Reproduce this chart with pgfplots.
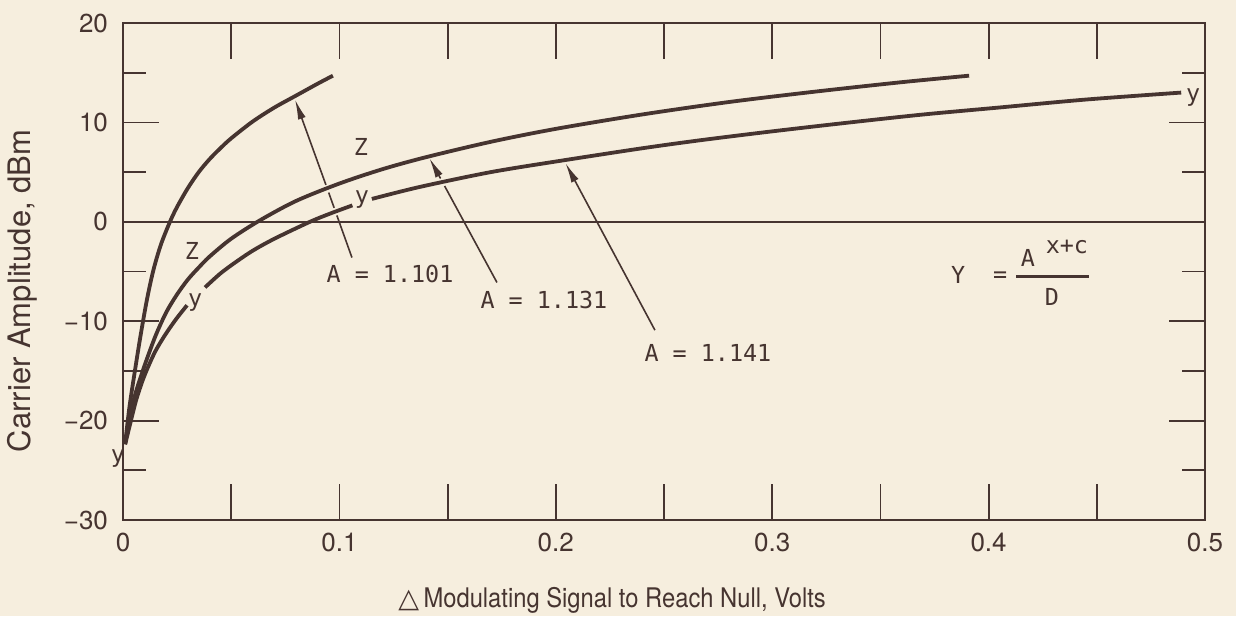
\documentclass[border=0pt]{standalone}
\usepackage{pgfplots}
\pgfplotsset{compat=1.18}
\usepackage{fontspec}
\setmainfont{TeX Gyre Heros}
\newfontfamily\cond[FakeStretch=0.88]{TeX Gyre Heros}
\newfontfamily\typed{DejaVu Sans Mono}
\newfontfamily\symb{DejaVu Sans}
\usetikzlibrary{arrows.meta}
\definecolor{paper}{RGB}{246,238,222}
\definecolor{ink}{RGB}{70,52,48}
\tikzset{leader/.style={ink, line width=0.8pt},
         head/.style={-{Latex[length=10pt, width=4pt]}}}

\begin{document}
\begin{tikzpicture}
\path[use as bounding box, fill=paper] (0,0) rectangle (618pt,308pt);
\begin{axis}[
  at={(61.5pt,48pt)}, anchor=south west,
  width=541pt, height=248.5pt, scale only axis,
  xmin=0, xmax=0.5, ymin=-30, ymax=20,
  clip=false,
  axis line style={ink, line width=1.3pt},
  tick align=inside,
  xtick={0,0.05,0.1,0.15,0.2,0.25,0.3,0.35,0.4,0.45,0.5},
  xticklabels={0,,0.1,,0.2,,0.3,,0.4,,0.5},
  ytick={-30,-20,-10,0,10,20},
  yticklabels={−30,−20,−10,0,10,20},
  minor ytick={-25,-15,-5,5,15},
  major tick length=18pt, minor tick length=11.5pt,
  tick style={ink, line width=0.9pt},
  minor tick style={ink, line width=0.9pt},
  ticklabel style={font=\fontsize{13}{15}\selectfont, text=ink},
  yticklabel style={xshift=-4pt},
  xticklabel style={yshift=-3pt},
  extra y ticks={0}, extra y tick labels={},
  extra y tick style={grid=major},
  major grid style={ink, line width=0.8pt},
  xlabel={{\symb △}\,Modulating Signal to Reach Null, Volts},
  ylabel={Carrier Amplitude, dBm},
  every axis x label/.style={at={(axis description cs:0.452,-0.161)}, anchor=center, font=\cond\fontsize{13.5}{15}\selectfont, text=ink},
  every axis y label/.style={at={(axis description cs:-0.0933,0.461)}, anchor=center, rotate=90, font=\fontsize{15.5}{17}\selectfont, text=ink},
  curve/.style={ink, line width=1.9pt, smooth, no marks},
]

% A = 1.101
\addplot[curve] coordinates {
  (0.0010,-22.3) (0.0030,-18.6) (0.0055,-15.0) (0.0080,-11.6) (0.0110,-7.9)
  (0.0140,-4.9) (0.0175,-2.3) (0.0217,0.0) (0.0250,1.5) (0.0300,3.4)
  (0.0350,5.0) (0.0400,6.3) (0.0450,7.4) (0.0500,8.4) (0.0600,10.1)
  (0.0700,11.5) (0.0800,12.7) (0.0900,13.9) (0.0970,14.7)
};
% A = 1.131
\addplot[curve] coordinates {
  (0.0010,-22.3) (0.0045,-18.3) (0.0088,-15.2) (0.0148,-11.6) (0.0200,-9.1)
  (0.0250,-7.3) (0.0300,-5.8) (0.0350,-4.6) (0.0400,-3.5) (0.0500,-1.7)
  (0.0633,0.15) (0.0800,2.1) (0.1000,3.85) (0.1200,5.3) (0.1400,6.5)
  (0.1700,8.05) (0.2000,9.35) (0.2400,10.8) (0.2800,12.05) (0.3200,13.1)
  (0.3600,14.05) (0.3910,14.7)
};
% A = 1.141, broken where the y marks sit
\addplot[curve] coordinates {
  (0.0010,-22.4) (0.0030,-20.6) (0.0060,-18.0) (0.0090,-16.0) (0.0116,-14.6)
  (0.0150,-13.0) (0.0194,-11.4) (0.0245,-9.8) (0.0296,-8.4)
};
\addplot[curve] coordinates {
  (0.0379,-6.6) (0.0450,-5.2) (0.0518,-4.1) (0.0600,-2.9) (0.0700,-1.7)
  (0.0864,0.0) (0.0960,0.85) (0.1060,1.65)
};
\addplot[curve] coordinates {
  (0.1150,2.3) (0.1370,3.5) (0.1700,5.0) (0.2040,6.2) (0.2400,7.4)
  (0.2666,8.2) (0.3000,9.1) (0.3360,10.0) (0.3700,10.8) (0.4050,11.5)
  (0.4450,12.3) (0.4890,13.0)
};

% leader arrows, interrupted where they pass under a curve
\draw[leader] (axis cs:0.1058,-3.6) -- (axis cs:0.09883,0.64);
\draw[leader] (axis cs:0.09757,1.408) -- (axis cs:0.09504,2.944);
\draw[leader, head] (axis cs:0.09378,3.712) -- (axis cs:0.0795,12.3);
\draw[leader] (axis cs:0.1728,-6.1) -- (axis cs:0.14862,3.602);
\draw[leader, head] (axis cs:0.14674,4.358) -- (axis cs:0.1416,6.4);
\draw[leader, head] (axis cs:0.2458,-10.9) -- (axis cs:0.2045,5.9);

% annotations
\begin{scope}[every node/.style={font=\typed\fontsize{11.7}{13}\selectfont, text=ink, inner sep=1pt}]
\node at (axis cs:0.1234,-5.2) {A = 1.101};
\node at (axis cs:0.1945,-7.9) {A = 1.131};
\node at (axis cs:0.2703,-13.2) {A = 1.141};
\node at (axis cs:0.0318,-2.9) {Z};
\node at (axis cs:0.1100,7.5) {Z};
\node at (axis cs:0.0333,-8.1) {y};
\node at (axis cs:0.1104,2.2) {y};
\node at (axis cs:0.4945,12.5) {y};
\node at (axis cs:-0.0023,-23.8) {y};
\node at (axis cs:0.3859,-5.38) {Y};
\node at (axis cs:0.4053,-5.58) {=};
\node at (axis cs:0.4182,-3.67) {A};
\node at (axis cs:0.4362,-2.57) {x+c};
\node at (axis cs:0.4293,-7.6) {D};
\end{scope}
\draw[ink, line width=1.4pt] (axis cs:0.4127,-5.48) -- (axis cs:0.4464,-5.48);
\end{axis}
\end{tikzpicture}
\end{document}
